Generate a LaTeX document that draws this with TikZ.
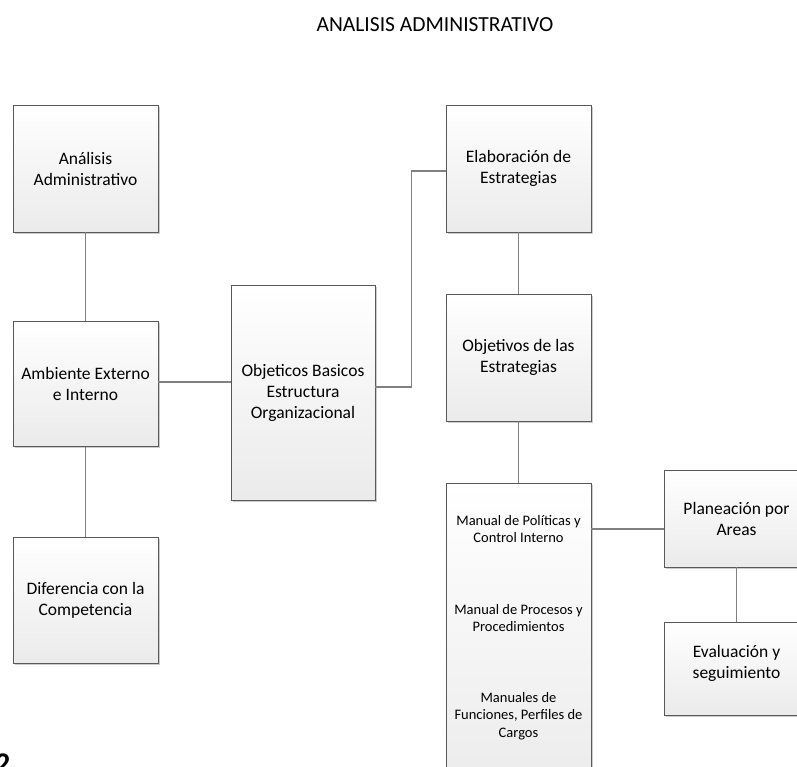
\documentclass[tikz,border=0pt]{standalone}
\usepackage{fontspec}
\setmainfont{Carlito}
\usetikzlibrary{shadows}
\begin{document}
\begin{tikzpicture}[x=1pt,y=-1pt,
 box/.style={draw=black!65, line width=0.9pt, top color=white, bottom color=black!8,
   drop shadow={shadow xshift=1.8pt,shadow yshift=-1.8pt,opacity=0.2,fill=black},
   inner sep=0pt, align=flush center, text width=138pt, minimum width=145pt,
   font=\fontsize{17.5}{21}\selectfont},
 boxtext/.style={align=flush center, inner sep=0pt, font=\fontsize{17.5}{21}\selectfont},
 link/.style={draw=black!50, line width=1.1pt},
 small/.style={align=flush center, inner sep=0pt, font=\fontsize{14.5}{17.5}\selectfont}]
\useasboundingbox (0,0) rectangle (797,766);
\node[font=\fontsize{21.5}{26}\selectfont] (title) at (435,25) {ANALISIS ADMINISTRATIVO};
\node[box, minimum height=127pt] (A) at (85.5,168.5) {Análisis\\Administrativo};
\node[box, minimum height=125pt] (B) at (85.5,384) {Ambiente Externo\\e Interno};
\node[box, minimum height=126pt] (C) at (85.5,600) {Diferencia con la\\Competencia};
\node[box, minimum width=144pt, minimum height=215pt] (D) at (303,392.5) {Objeticos Basicos\\Estructura\\Organizacional};
\node[box, minimum height=127pt] (E) at (518.5,168.5) {Elaboración de\\Estrategias};
\node[box, minimum height=127pt] (F) at (518.5,357.5) {Objetivos de las\\Estrategias};
\node[box, minimum height=317pt] (G) at (518.5,641.5) {};
\node[small] (g1) at (518.5,529) {Manual de Políticas y\\Control Interno};
\node[small] (g2) at (518.5,618) {Manual de Procesos y\\Procedimientos};
\node[small] (g3) at (518.5,716) {Manuales de\\Funciones, Perfiles de\\Cargos};
\node[box, minimum height=97pt] (H) at (736.5,518.5) {Planeación por\\Areas};
\node[box, minimum height=93pt] (I) at (736.5,668.5) {};
\node[boxtext] (it) at (736.5,663) {Evaluación y\\seguimiento};
\node[anchor=base west, inner sep=0pt, font=\bfseries\fontsize{30}{34}\selectfont] (pg) at (-5,773) {2};
\draw[link] (A) -- (B);
\draw[link] (B) -- (C);
\draw[link] ([yshift=2pt]B.east) -- ([yshift=2pt]B.east -| D.west);
\draw[link] ([yshift=5.5pt]D.east) -- ++(36,0) |- ([yshift=-2.5pt]E.west);
\draw[link] (E) -- (F);
\draw[link] (F) -- (G);
\draw[link] (g1 -| G.east) -- (g1 -| H.west);
\draw[link] (H) -- (I);
\end{tikzpicture}
\end{document}
